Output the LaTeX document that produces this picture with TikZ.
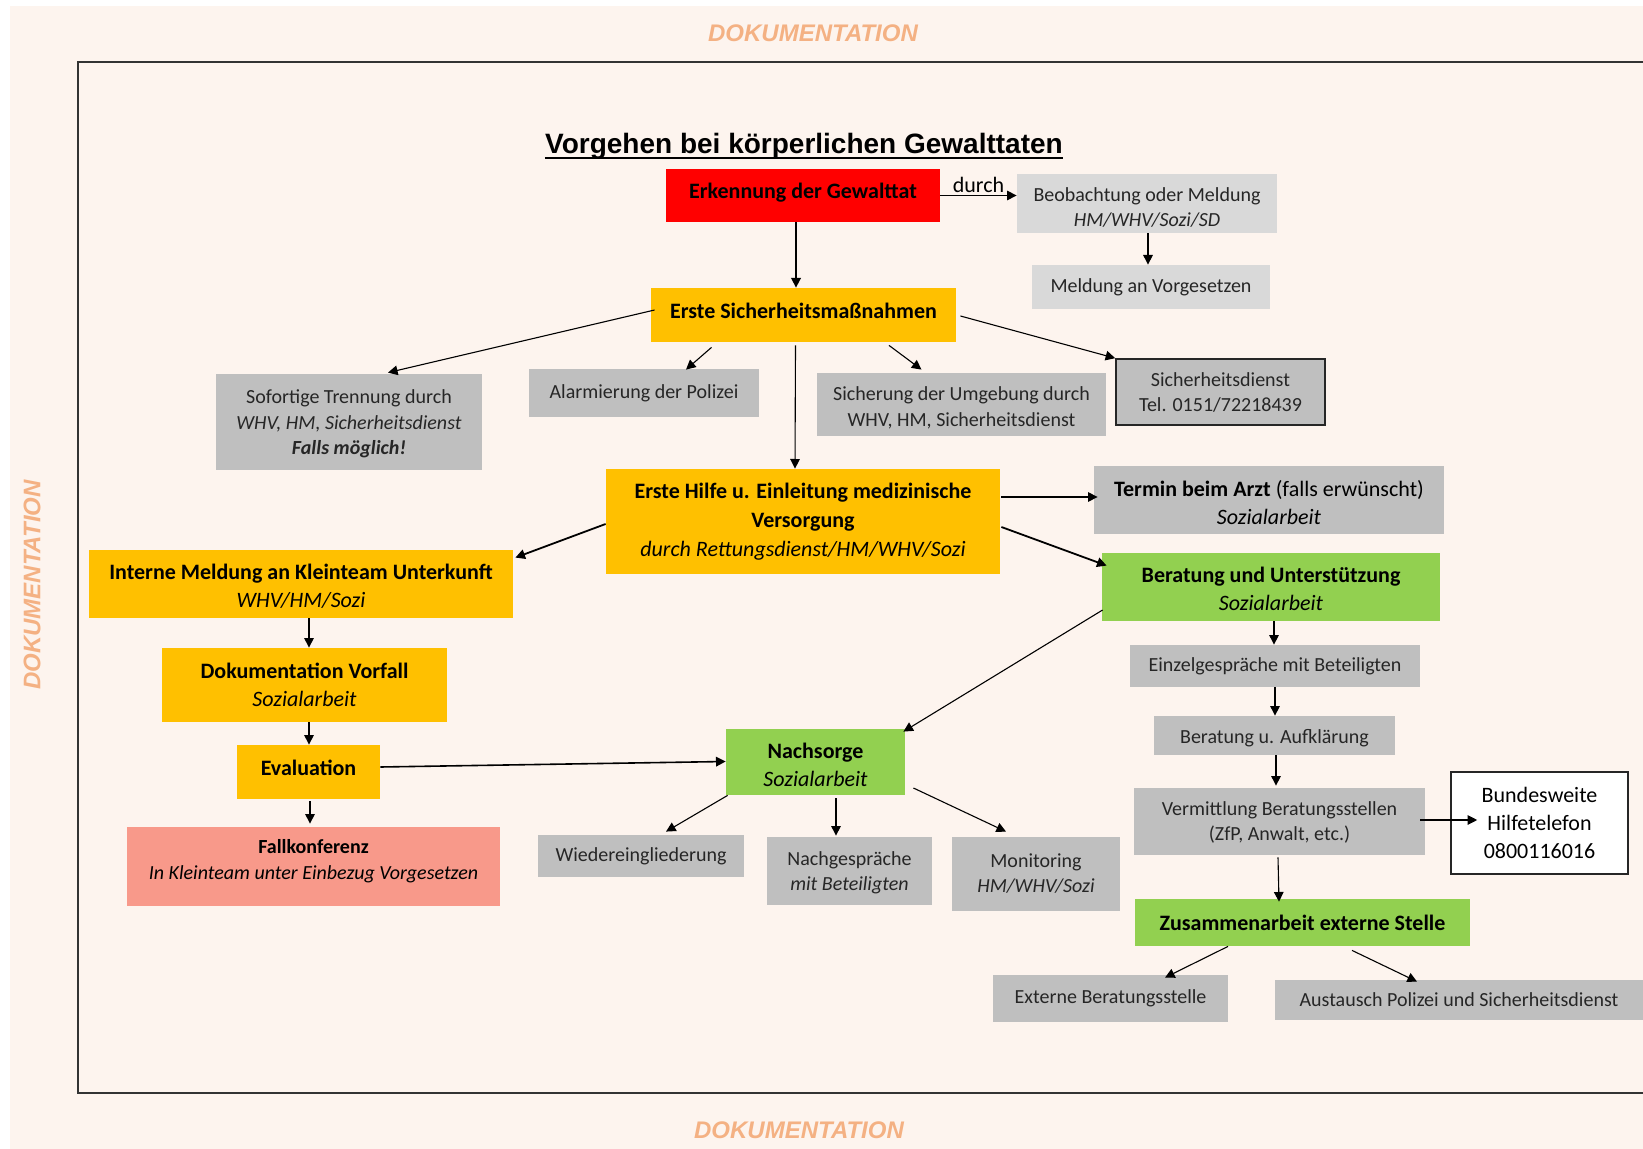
\documentclass[tikz,border=0pt]{standalone}
\usepackage{fontspec}
\setmainfont{Carlito}
\newfontfamily\titlefont{Liberation Sans}
\usetikzlibrary{arrows.meta,calc}
\definecolor{peach}{HTML}{FDF4EE}
\definecolor{dokc}{HTML}{F4B183}
\definecolor{redc}{HTML}{FF0000}
\definecolor{orc}{HTML}{FFC000}
\definecolor{grc}{HTML}{92D050}
\definecolor{gyd}{HTML}{BFBFBF}
\definecolor{gyl}{HTML}{D9D9D9}
\definecolor{salm}{HTML}{F8998A}
\newcommand{\rb}[2]{\raisebox{#1}[\height][\depth]{#2}}
\tikzset{
  nbase/.style={rectangle, align=center, inner sep=0pt, font=\fontsize{10}{12.5}\selectfont, text=black!85},
  bigtxt/.style={font=\fontsize{11}{14}\selectfont, text=black},
  sz/.style 2 args={minimum width=#1*0.5pt, minimum height=#2*0.5pt},
  gbox/.style={nbase, fill=gyd},
  lgbox/.style={nbase, fill=gyl},
  obox/.style={nbase, bigtxt, fill=orc},
  grbox/.style={nbase, bigtxt, fill=grc},
  dok/.style={font={\titlefont\fontsize{12}{14}\selectfont\bfseries\itshape}, text=dokc, inner sep=0pt},
  arr/.style={-{Triangle[length=4.8pt,width=4.8pt]}, line width=0.55pt, black},
  tarr/.style={arr, line width=0.9pt},
  frame/.style={line width=1.4pt, black!80},
}
\begin{document}
\begin{tikzpicture}[x=0.5pt,y=-0.5pt]
\useasboundingbox (0,0) rectangle (1643,1149);
\fill[peach] (10,6) rectangle (1643,1149);
\node[dok] (dtop) at (813,33) {DOKUMENTATION};
\node[dok] (dbot) at (799,1130) {DOKUMENTATION};
\node[dok, rotate=90] (dleft) at (32,585) {DOKUMENTATION};
\draw[frame] (1643,62) -- (78,62) -- (78,1093) -- (1643,1093);

% title
\node[anchor=base, inner sep=0pt, font={\titlefont\fontsize{14}{16}\selectfont\bfseries}] (title) at (804,154) {Vorgehen bei körperlichen Gewalttaten};
\draw[line width=1pt] ($(title.base west)+(0,4)$) -- ($(title.base east)+(0,4)$);

% nodes
\node[nbase, bigtxt, fill=redc, sz={274}{53}] (red) at (803,195.5) {\rb{1.5pt}{\textbf{Erkennung der Gewalttat}}};
\node[lgbox, sz={260}{59}] (beob) at (1147,203.5) {\rb{-2pt}{Beobachtung oder Meldung}\\\rb{-2pt}{\textit{HM/WHV/Sozi/SD}}};
\node[lgbox, sz={238}{44}] (meldv) at (1151,287) {Meldung an Vorgesetzen};
\node[obox, sz={305}{54}] (erste) at (803.5,315) {\rb{2pt}{\textbf{Erste Sicherheitsmaßnahmen}}};
\node[gbox, sz={266}{96}, font=\fontsize{10}{12.8}\selectfont] (sofort) at (349,422) {\rb{-1pt}{Sofortige Trennung durch}\\\rb{-1pt}{\textit{WHV, HM, Sicherheitsdienst}}\\\rb{-1pt}{\textbf{\textit{Falls möglich!}}}};
\node[gbox, sz={230}{48}] (alarm) at (644,393) {Alarmierung der Polizei};
\node[gbox, sz={289}{63}, font=\fontsize{10}{13}\selectfont] (sicher) at (961.5,404.5) {\rb{-1.5pt}{Sicherung der Umgebung durch}\\\rb{-1.5pt}{WHV, HM, Sicherheitsdienst}};
\node[gbox, sz={209}{66}, draw=black!85, line width=0.8pt] (sdienst) at (1220.5,392) {Sicherheitsdienst\\Tel. 0151/72218439};
\node[obox, sz={394}{105}, font=\fontsize{11}{14.6}\selectfont] (hilfe) at (803,521.5) {\textbf{Erste Hilfe u. Einleitung medizinische}\\\textbf{Versorgung}\\\textit{durch Rettungsdienst/HM/WHV/Sozi}};
\node[gbox, bigtxt, sz={350}{68}] (termin) at (1269,500) {\rb{-1.5pt}{\textbf{Termin beim Arzt} (falls erwünscht)}\\\rb{-1.5pt}{\textit{Sozialarbeit}}};
\node[grbox, sz={338}{68}] (berat) at (1271,587) {\rb{-1pt}{\textbf{Beratung und Unterstützung}}\\\rb{-1pt}{\textit{Sozialarbeit}}};
\node[obox, sz={424}{68}] (interne) at (301,584) {\rb{-1pt}{\textbf{Interne Meldung an Kleinteam Unterkunft}}\\\rb{-1pt}{\textit{WHV/HM/Sozi}}};
\node[obox, sz={285}{74}] (doku) at (304.5,685) {\textbf{Dokumentation Vorfall}\\\textit{Sozialarbeit}};
\node[obox, sz={143}{54}] (eval) at (308.5,772) {\rb{2pt}{\textbf{Evaluation}}};
\node[nbase, fill=salm, sz={373}{79}, text=black, font=\fontsize{10}{13}\selectfont] (fall) at (313.5,866.5) {\rb{2.9pt}{\textbf{Fallkonferenz}}\\\rb{2.9pt}{\textit{In Kleinteam unter Einbezug Vorgesetzen}}};
\node[grbox, sz={179}{66}] (nach) at (815.5,762) {\rb{-1.5pt}{\textbf{Nachsorge}}\\\rb{-1.5pt}{\textit{Sozialarbeit}}};
\node[gbox, sz={206}{42}] (wieder) at (641,856) {Wiedereingliederung};
\node[gbox, sz={165}{68}] (nachges) at (849.5,871) {\rb{-1pt}{Nachgespräche}\\\rb{-1pt}{\textit{mit Beteiligten}}};
\node[gbox, sz={168}{74}] (monit) at (1036,874) {Monitoring\\\textit{HM/WHV/Sozi}};
\node[gbox, sz={290}{42}] (einzel) at (1275,666) {Einzelgespräche mit Beteiligten};
\node[gbox, sz={241}{39}] (aufkl) at (1274.5,735.5) {\rb{-1.5pt}{Beratung u. Aufklärung}};
\node[gbox, sz={291}{67}] (vermitt) at (1279.5,821.5) {\rb{-0.7pt}{Vermittlung Beratungsstellen}\\\rb{-0.7pt}{(ZfP, Anwalt, etc.)}};
\node[nbase, bigtxt, fill=white, draw=black!85, line width=0.8pt, sz={177}{102}] (bund) at (1539.5,823) {Bundesweite\\Hilfetelefon\\0800116016};
\node[grbox, sz={335}{47}] (zusam) at (1302.5,922.5) {\textbf{Zusammenarbeit externe Stelle}};
\node[gbox, sz={235}{47}] (extern) at (1110.5,998.5) {Externe Beratungsstelle};
\node[gbox, sz={368}{40}] (austausch) at (1459,1000) {Austausch Polizei und Sicherheitsdienst};

% connectors
\draw[arr, line width=0.8pt] ($(red.south)+(-7,0)$) -- ($(erste.north)+(-7.5,0)$);
\draw[arr] (red.east) -- (red.east -| beob.west) node[midway, above, inner sep=1pt, font=\fontsize{11}{13}\selectfont] (durch) {durch};
\draw[arr] ($(beob.south)+(1,0)$) -- ($(meldv.north)+(-3,0)$);
\draw[arr] ($(erste.west)+(4,-5)$) -- ($(sofort.north)+(39,-1)$);
\draw[arr] ($(erste.south)+(-92,5)$) -- ($(alarm.north)+(42,1)$);
\draw[arr] ($(erste.south)+(85.5,3)$) -- ($(sicher.north)+(-40,-3)$);
\draw[arr] ($(erste.east)+(4,1)$) -- (sdienst.north west);
\draw[arr] ($(erste.south)+(-8,3)$) -- ($(hilfe.north)+(-8,0)$);
\draw[arr] ($(hilfe.east)+(1,-24.5)$) -- ($(termin.west)+(4,-3)$);
\draw[tarr] ($(hilfe.east)+(1,5.5)$) -- ($(berat.north west)+(5,13)$);
\draw[tarr] ($(hilfe.west)+(0,2.5)$) -- ($(interne.north east)+(2,8)$);
\draw[arr] ($(interne.south)+(8,0)$) -- ($(doku.north)+(4.5,0)$);
\draw[arr] ($(doku.south)+(4.5,0)$) -- ($(eval.north)+(0.5,0)$);
\draw[arr] ($(eval.south)+(1.5,2)$) -- ($(fall.north)+(-3.5,-3)$);
\draw[arr, line width=0.8pt] ($(eval.east)+(0,-5)$) -- ($(nach.west)+(0,-0.5)$);
\draw[arr] ($(berat.west)+(1,23)$) -- ($(nach.north east)+(-2,3)$);
\draw[arr] ($(nach.south west)+(2,0)$) -- ($(wieder.north)+(25,-3)$);
\draw[arr] ($(nach.south)+(20.5,3)$) -- ($(nachges.north)+(-13.5,-1)$);
\draw[arr] ($(nach.east)+(8,26)$) -- ($(monit.north)+(-30,-5)$);
\draw[arr] ($(berat.south)+(3,0)$) -- ($(einzel.north)+(-1,0)$);
\draw[arr] (einzel.south) -- ($(aufkl.north)+(0.5,0)$);
\draw[arr] ($(aufkl.south)+(1.5,0)$) -- ($(vermitt.north)+(-3.5,-2)$);
\draw[arr] ($(vermitt.east)+(-5,-1.5)$) -- ($(bund.west)+(27,-3)$);
\draw[arr] ($(vermitt.south)+(-1.5,2)$) -- ($(zusam.north)+(-23.5,3)$);
\draw[arr] ($(zusam.south)+(-74.5,0)$) -- ($(extern.north)+(54.5,3)$);
\draw[arr] ($(zusam.south)+(49.5,4)$) -- ($(austausch.north)+(-42,2)$);
\end{tikzpicture}
\end{document}
